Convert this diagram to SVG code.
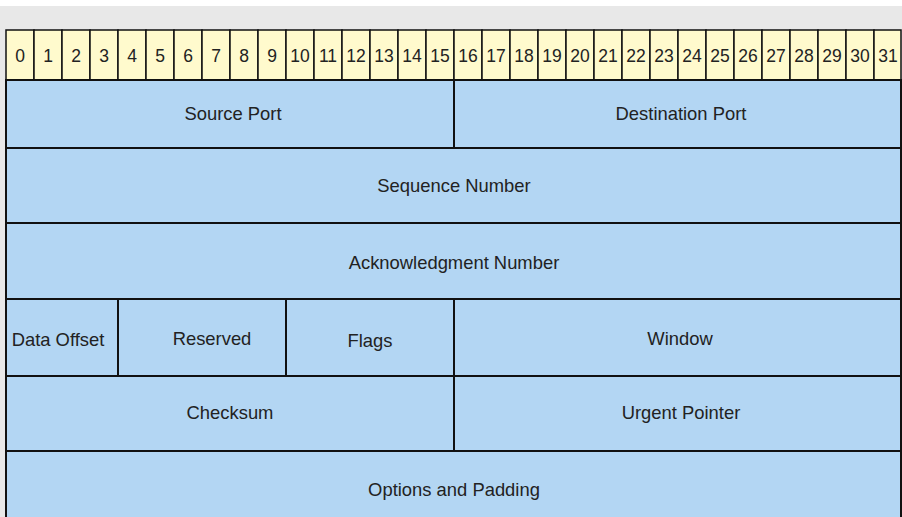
<svg xmlns="http://www.w3.org/2000/svg" width="902" height="517" viewBox="0 0 902 517">
<style>
.bg{fill:#e8e8e8}
.hd{fill:#fffacd;stroke:#111;stroke-width:1.5}
.cell{fill:#b3d6f3;stroke:#111;stroke-width:2}
.num{font-family:"Liberation Sans",Arial,sans-serif;font-size:17.5px;fill:#222;text-anchor:middle}
.lbl{font-family:"Liberation Sans",Arial,sans-serif;font-size:18.4px;fill:#222;text-anchor:middle}
</style>
<rect x="0" y="0" width="902" height="517" fill="#ffffff"/>
<rect class="bg" x="0" y="6" width="902" height="511"/>
<g id="header">
<rect class="hd" x="6" y="30" width="28" height="50"/><text class="num" x="20" y="62">0</text>
<rect class="hd" x="34" y="30" width="28" height="50"/><text class="num" x="48" y="62">1</text>
<rect class="hd" x="62" y="30" width="28" height="50"/><text class="num" x="76" y="62">2</text>
<rect class="hd" x="90" y="30" width="28" height="50"/><text class="num" x="104" y="62">3</text>
<rect class="hd" x="118" y="30" width="28" height="50"/><text class="num" x="132" y="62">4</text>
<rect class="hd" x="146" y="30" width="28" height="50"/><text class="num" x="160" y="62">5</text>
<rect class="hd" x="174" y="30" width="28" height="50"/><text class="num" x="188" y="62">6</text>
<rect class="hd" x="202" y="30" width="28" height="50"/><text class="num" x="216" y="62">7</text>
<rect class="hd" x="230" y="30" width="28" height="50"/><text class="num" x="244" y="62">8</text>
<rect class="hd" x="258" y="30" width="28" height="50"/><text class="num" x="272" y="62">9</text>
<rect class="hd" x="286" y="30" width="28" height="50"/><text class="num" x="300" y="62">10</text>
<rect class="hd" x="314" y="30" width="28" height="50"/><text class="num" x="328" y="62">11</text>
<rect class="hd" x="342" y="30" width="28" height="50"/><text class="num" x="356" y="62">12</text>
<rect class="hd" x="370" y="30" width="28" height="50"/><text class="num" x="384" y="62">13</text>
<rect class="hd" x="398" y="30" width="28" height="50"/><text class="num" x="412" y="62">14</text>
<rect class="hd" x="426" y="30" width="28" height="50"/><text class="num" x="440" y="62">15</text>
<rect class="hd" x="454" y="30" width="28" height="50"/><text class="num" x="468" y="62">16</text>
<rect class="hd" x="482" y="30" width="28" height="50"/><text class="num" x="496" y="62">17</text>
<rect class="hd" x="510" y="30" width="28" height="50"/><text class="num" x="524" y="62">18</text>
<rect class="hd" x="538" y="30" width="28" height="50"/><text class="num" x="552" y="62">19</text>
<rect class="hd" x="566" y="30" width="28" height="50"/><text class="num" x="580" y="62">20</text>
<rect class="hd" x="594" y="30" width="28" height="50"/><text class="num" x="608" y="62">21</text>
<rect class="hd" x="622" y="30" width="28" height="50"/><text class="num" x="636" y="62">22</text>
<rect class="hd" x="650" y="30" width="28" height="50"/><text class="num" x="664" y="62">23</text>
<rect class="hd" x="678" y="30" width="28" height="50"/><text class="num" x="692" y="62">24</text>
<rect class="hd" x="706" y="30" width="28" height="50"/><text class="num" x="720" y="62">25</text>
<rect class="hd" x="734" y="30" width="28" height="50"/><text class="num" x="748" y="62">26</text>
<rect class="hd" x="762" y="30" width="28" height="50"/><text class="num" x="776" y="62">27</text>
<rect class="hd" x="790" y="30" width="28" height="50"/><text class="num" x="804" y="62">28</text>
<rect class="hd" x="818" y="30" width="28" height="50"/><text class="num" x="832" y="62">29</text>
<rect class="hd" x="846" y="30" width="28" height="50"/><text class="num" x="860" y="62">30</text>
<rect class="hd" x="874" y="30" width="27" height="50"/><text class="num" x="888" y="62">31</text>
</g>
<g id="source-port"><rect class="cell" x="6" y="80" width="448" height="68"/><text class="lbl" x="233" y="120">Source Port</text></g>
<g id="destination-port"><rect class="cell" x="454" y="80" width="447" height="68"/><text class="lbl" x="681" y="120">Destination Port</text></g>
<g id="sequence-number"><rect class="cell" x="6" y="148" width="895" height="75"/><text class="lbl" x="454" y="192">Sequence Number</text></g>
<g id="acknowledgment-number"><rect class="cell" x="6" y="223" width="895" height="76"/><text class="lbl" x="454" y="269">Acknowledgment Number</text></g>
<g id="data-offset"><rect class="cell" x="6" y="299" width="112" height="77"/><text class="lbl" x="58" y="346">Data Offset</text></g>
<g id="reserved"><rect class="cell" x="118" y="299" width="168" height="77"/><text class="lbl" x="212" y="345">Reserved</text></g>
<g id="flags"><rect class="cell" x="286" y="299" width="168" height="77"/><text class="lbl" x="370" y="347">Flags</text></g>
<g id="window"><rect class="cell" x="454" y="299" width="447" height="77"/><text class="lbl" x="680" y="345">Window</text></g>
<g id="checksum"><rect class="cell" x="6" y="376" width="448" height="75"/><text class="lbl" x="230" y="419">Checksum</text></g>
<g id="urgent-pointer"><rect class="cell" x="454" y="376" width="447" height="75"/><text class="lbl" x="681" y="419">Urgent Pointer</text></g>
<g id="options-padding"><rect class="cell" x="6" y="451" width="895" height="80"/><text class="lbl" x="454" y="496">Options and Padding</text></g>
<g id="connectors"/>
</svg>
